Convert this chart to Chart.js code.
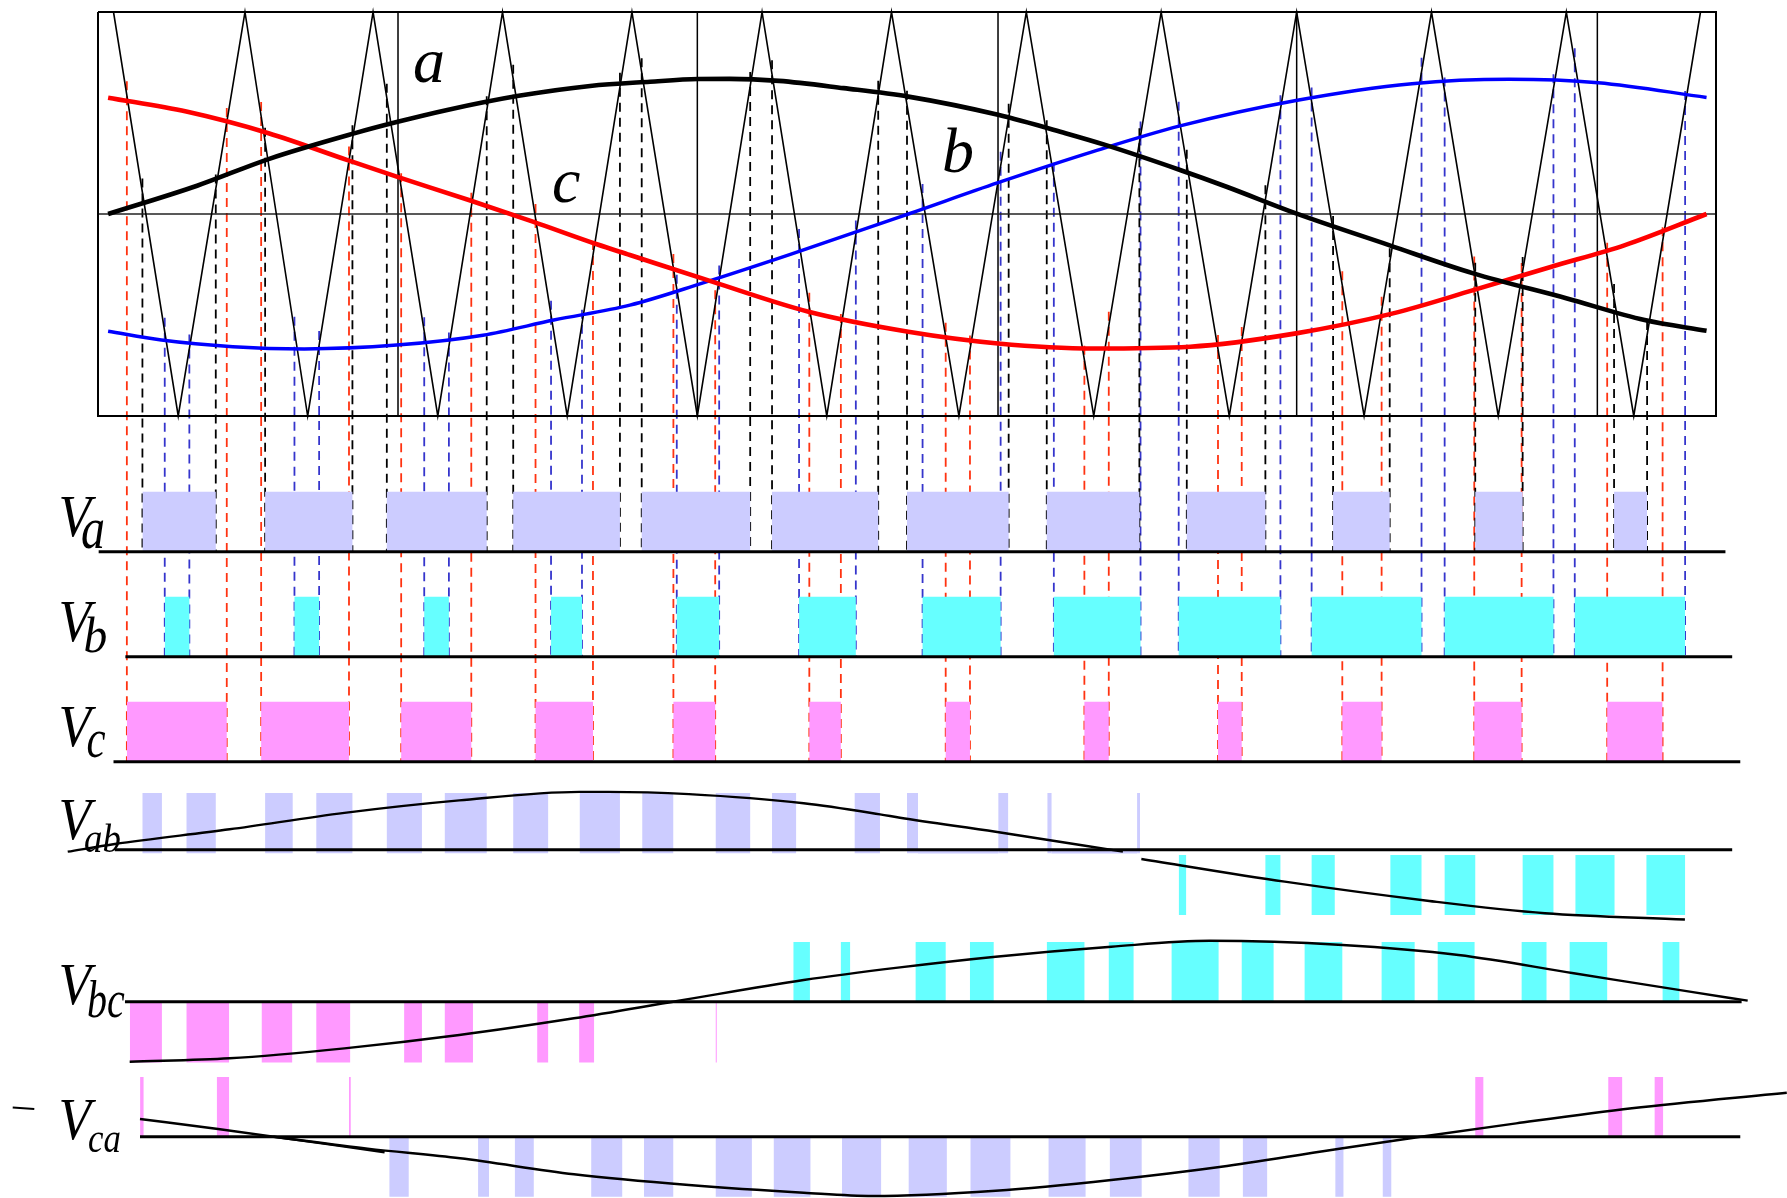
<!DOCTYPE html>
<html>
<head>
<meta charset="utf-8">
<title>Sinusoidal PWM – phase and line voltages</title>
<style>
  html, body { margin: 0; padding: 0; background: #fff; }
  canvas { display: block; }
</style>
<script src="https://cdn.jsdelivr.net/npm/chart.js@4.4.1/dist/chart.umd.min.js"></script>
</head>
<body>
<canvas id="pwm" width="1787" height="1198"></canvas>
<script>
// ---------------------------------------------------------------
// Data — angles in electrical degrees, levels normalised
// ---------------------------------------------------------------

// triangular carrier vertices (+1 peaks, -1 troughs)
const carrierPeaks   = [2.3, 21.8, 40.8, 60.0, 79.2, 98.5, 117.7, 137.7, 157.7, 177.8, 197.8, 217.8, 237.7];
const carrierTroughs = [11.9, 31.1, 50.4, 69.6, 88.9, 108.1, 127.7, 147.7, 167.8, 187.8, 207.7, 227.8];
const gridAngles     = [44.5, 88.9, 133.5, 177.8, 222.4];

// sinusoidal references (carrier peak = 1)
const refA_angle = [1.5, 14.7, 25.3, 38.0, 44.3, 51.8, 62.4, 73.0, 81.9, 89.0, 93.7, 101.0, 110.6, 120.2, 133.5, 143.5, 149.4, 160.5, 167.4, 177.7, 191.5, 204.0, 217.9, 229.4, 238.6];
const refA_value = [0.000, 0.140, 0.272, 0.399, 0.455, 0.515, 0.585, 0.634, 0.655, 0.668, 0.669, 0.659, 0.623, 0.581, 0.491, 0.400, 0.342, 0.218, 0.135, 0.003, -0.154, -0.294, -0.418, -0.525, -0.578];
const refB_angle = [1.5, 9.4, 20.0, 30.6, 44.3, 57.1, 67.6, 78.9, 89.4, 102.7, 120.2, 133.5, 147.7, 160.5, 177.7, 194.9, 209.3, 222.5, 238.6];
const refB_value = [-0.580, -0.624, -0.657, -0.668, -0.649, -0.600, -0.525, -0.451, -0.345, -0.200, 0.000, 0.155, 0.310, 0.436, 0.562, 0.645, 0.667, 0.650, 0.577];
const refC_angle = [1.5, 13.1, 25.3, 36.9, 44.3, 55.0, 64.5, 74.0, 78.9, 91.1, 105.4, 120.2, 133.5, 147.7, 162.0, 177.7, 192.1, 204.0, 215.6, 226.5, 238.6];
const refC_value = [0.576, 0.507, 0.400, 0.268, 0.185, 0.069, -0.038, -0.150, -0.203, -0.335, -0.484, -0.583, -0.641, -0.666, -0.657, -0.591, -0.492, -0.377, -0.261, -0.154, 0.000];

// phase pulses [on, off]
const pulsesA = [[6.59,17.47],[24.79,37.74],[42.84,57.66],[61.59,77.42],[80.65,96.74],[99.98,115.73],[120.00,135.08],[140.73,154.47],[161.50,173.16],[183.20,191.60],[204.29,211.32],[224.88,229.78]];
const pulsesB = [[9.90,13.55],[29.14,32.80],[48.39,52.05],[67.20,71.79],[85.85,92.14],[103.99,112.41],[122.31,133.89],[141.78,154.64],[160.30,175.39],[180.02,196.32],[199.75,215.89],[219.05,235.42]];
const pulsesC = [[4.28,19.10],[24.20,37.23],[44.97,55.37],[64.90,73.42],[85.35,91.55],[105.51,110.19],[125.74,129.34],[146.31,149.93],[166.13,169.65],[184.57,190.40],[204.14,211.17],[223.86,232.08]];

// line-to-line pulses
const vabPos  = [[6.57,9.48],[13.13,17.47],[24.79,28.88],[32.38,37.74],[42.84,48.05],[51.44,57.66],[61.59,66.77],[71.46,77.42],[80.73,85.33],[91.63,96.74],[99.98,103.55],[112.24,115.99],[120.00,121.63],[133.55,135.00],[140.83,141.44],[154.13,154.56]];
const vabOpen = [[121.63,133.55],[141.44,154.13]];
const vabNeg  = [[160.30,161.40],[173.16,175.39],[180.02,183.45],[191.70,196.32],[199.75,204.29],[211.32,215.89],[219.15,224.95],[229.68,235.44]];
const vbcPos  = [[103.13,105.60],[110.19,111.56],[121.28,125.74],[129.34,132.86],[140.75,146.32],[149.93,153.61],[159.25,166.22],[169.65,174.38],[178.98,184.57],[190.40,195.30],[198.72,204.19],[211.17,214.86],[218.29,223.86],[232.08,234.60]];
const vbcNeg  = [[4.72,9.48],[13.13,19.44],[24.29,28.80],[32.38,37.40],[45.41,48.05],[51.44,55.62],[65.15,66.77],[71.37,73.58],[91.63,91.80]];
const vcaPos  = [[6.24,6.76],[17.64,19.44],[37.23,37.49],[204.29,205.49],[224.02,226.08],[230.90,232.18]];
const vcaNeg  = [[43.20,46.09],[56.38,58.00],[61.84,64.64],[73.16,77.76],[80.99,85.33],[91.63,96.99],[100.24,105.68],[110.36,116.16],[120.25,125.91],[129.42,135.34],[141.00,146.49],[150.09,154.81],[161.75,166.38],[169.82,173.42],[183.54,184.74],[190.57,191.87]];

// fundamental of each line voltage (pulse height = 1)
const vab1_angle = [-4.49, 2.49, 19.52, 36.55, 53.58, 71.46, 75.72, 87.65, 104.67, 116.0, 118.96, 133.15, 152.02];
const vab1_value = [-0.035, 0.10, 0.36, 0.65, 0.87, 1.02, 1.02, 0.98, 0.82, 0.624, 0.564, 0.317, -0.035];
const vab2_angle = [154.76, 176.03, 197.48, 214.63, 235.39];
const vab2_value = [-0.164, -0.564, -0.904, -1.12, -1.23];
const vbc_angle  = [4.70, 19.52, 36.55, 53.58, 70.6, 85.94, 104.67, 118.96, 133.15, 150.3, 164.9, 184.6, 201.8, 218.9, 236.1, 244.7];
const vbc_value  = [-1.005, -0.948, -0.781, -0.558, -0.278, 0.012, 0.363, 0.575, 0.754, 0.921, 1.02, 0.95, 0.782, 0.476, 0.168, 0.017];
const vca1_angle = [6.23, 17.81, 42.51];
const vca1_value = [0.296, 0.130, -0.261];
const vca2_angle = [26.0, 40.0, 53.7, 70.6, 87.65, 104.67, 114.9, 133.15, 150.3, 167.46, 184.62, 196.2, 210.36, 227.52, 250.5];
const vca2_value = [0.0, -0.20, -0.362, -0.63, -0.809, -0.938, -0.993, -0.905, -0.725, -0.49, -0.194, 0.0, 0.224, 0.476, 0.737];

const curveNames = ['a', 'b', 'c'];
const rowNames   = ['a', 'b', 'c', 'ab', 'bc', 'ca'];

// ---------------------------------------------------------------
// Layout (pixels)
// ---------------------------------------------------------------
const W = 1787, H = 1198;
const FRAME = { left: 98, right: 1716, top: 12, bottom: 416, span: 240 };
const FRAME_MID = (FRAME.top + FRAME.bottom) / 2;
const FRAME_HALF = (FRAME.bottom - FRAME.top) / 2;
const degPx = (FRAME.right - FRAME.left) / FRAME.span;

const ROWS = {
  a:  { base: 551.7,  top: 491.7,  from: 0.1,  to: 241.4 },
  b:  { base: 656.7,  top: 596.7,  from: 4.06, to: 242.4 },
  c:  { base: 761.7,  top: 701.7,  from: 2.3,  to: 243.6 },
  ab: { base: 849.7,  top: 793.0,  from: 2.5,  to: 242.4 },
  bc: { base: 1001.7, top: 942.0,  from: 4.0,  to: 243.8 },
  ca: { base: 1136.7, top: 1077.0, from: 6.23, to: 243.6 }
};

// axis whose value 0 sits at pixel p0 and value 1 at pixel p1
function yAxis(p0, p1) {
  const R = H / (p0 - p1), max = p0 / (p0 - p1);
  return { type: 'linear', display: false, bounds: 'data', min: max - R, max: max };
}
const panelVal = px => (FRAME_MID - px) / FRAME_HALF;

const COLORS = {
  lav: '#ccccff', cyan: '#66ffff', mag: '#ff99ff',
  a: '#000000', b: '#0000ff', c: '#ff0000',
  dashA: '#000000', dashB: '#3535cc', dashC: '#ff3311'
};

// ---------------------------------------------------------------
// Helpers that turn the arrays into line datasets
// ---------------------------------------------------------------
const zip = (xs, ys) => xs.map((x, i) => ({ x, y: ys[i] }));
const carrierPts = [...carrierPeaks.map(x => ({ x, y: 1 })), ...carrierTroughs.map(x => ({ x, y: -1 }))]
  .sort((p, q) => p.x - q.x);
function carrierAt(x) {
  for (let i = 1; i < carrierPts.length; i++) {
    const p = carrierPts[i - 1], q = carrierPts[i];
    if (x <= q.x) { const t = Math.max(0, (x - p.x) / (q.x - p.x)); return p.y + t * (q.y - p.y); }
  }
  return carrierPts[carrierPts.length - 1].y;
}
function stepPoints(spans, rest, level) {
  const pts = [];
  for (const [s, e] of spans) pts.push({ x: s, y: rest }, { x: s, y: level }, { x: e, y: level }, { x: e, y: rest });
  return pts;
}
function dropLines(spans, rowBasePx) {
  const pts = [], bottom = panelVal(rowBasePx);
  for (const pair of spans) for (const e of pair) {
    pts.push({ x: e, y: carrierAt(e) + 0.07 }, { x: e, y: bottom }, { x: e, y: null });
  }
  return pts;
}
function segments(spans, level) {
  const pts = [];
  for (const [s, e] of spans) pts.push({ x: s, y: level }, { x: e, y: level }, { x: e, y: null });
  return pts;
}

const base = { type: 'line', pointRadius: 0, pointHoverRadius: 0, fill: false, tension: 0, spanGaps: false };
const stroke = (data, axis, color, width, order, extra = {}) =>
  Object.assign({}, base, { data, yAxisID: axis, borderColor: color, borderWidth: width, order }, extra);
const pulses = (spans, axis, color, rest, level) =>
  Object.assign({}, base, {
    data: stepPoints(spans, rest, level), yAxisID: axis, borderColor: 'rgba(0,0,0,0)', borderWidth: 0,
    backgroundColor: color, fill: { value: rest }, order: 40
  });
const smooth = { cubicInterpolationMode: 'monotone' };
const dash = { borderDash: [9, 6] };

const datasets = [
  // switching instants dropped from the carrier crossings
  stroke(dropLines(pulsesC, ROWS.c.base), 'yP', COLORS.dashC, 1.8, 52, dash),
  stroke(dropLines(pulsesB, ROWS.b.base), 'yP', COLORS.dashB, 1.8, 51, dash),
  stroke(dropLines(pulsesA, ROWS.a.base), 'yP', COLORS.dashA, 1.8, 50, dash),

  // phase voltages
  pulses(pulsesA, 'ya', COLORS.lav, 0, 1),
  pulses(pulsesB, 'yb', COLORS.cyan, 0, 1),
  pulses(pulsesC, 'yc', COLORS.mag, 0, 1),

  // line voltages
  pulses(vabPos, 'yab', COLORS.lav, -0.063, 1),
  pulses(vabNeg, 'yab', COLORS.cyan, -0.093, -1.15),
  stroke(segments(vabOpen, -0.044), 'yab', COLORS.lav, 2.4, 39),
  pulses(vbcPos, 'ybc', COLORS.cyan, 0, 1),
  pulses(vbcNeg, 'ybc', COLORS.mag, -0.017, -1.02),
  pulses(vcaPos, 'yca', COLORS.mag, 0, 1),
  pulses(vcaNeg, 'yca', COLORS.lav, -0.017, -1.005),

  // modulation frame
  stroke([{ x: 0, y: 1 }, { x: FRAME.span, y: 1 }, { x: FRAME.span, y: -1 }, { x: 0, y: -1 }, { x: 0, y: 1 }], 'yP', '#000', 2, 30),
  stroke([{ x: 0, y: 0 }, { x: FRAME.span, y: 0 }], 'yP', '#222', 1.5, 30),
  stroke(gridAngles.flatMap(g => [{ x: g, y: 1 }, { x: g, y: -1 }, { x: g, y: null }]), 'yP', '#000', 1.5, 30),
  stroke(carrierPts, 'yP', '#000', 1.6, 25),

  // row axes
  ...rowNames.map(k => stroke([{ x: ROWS[k].from, y: 0 }, { x: ROWS[k].to, y: 0 }], 'y' + k, '#000', 3, 20)),

  // references
  stroke(zip(refB_angle, refB_value), 'yP', COLORS.b, 3.5, 12, smooth),
  stroke(zip(refC_angle, refC_value), 'yP', COLORS.c, 4.6, 11, smooth),
  stroke(zip(refA_angle, refA_value), 'yP', COLORS.a, 4.6, 10, smooth),

  // line-voltage fundamentals
  stroke(zip(vab1_angle, vab1_value), 'yab', '#000', 2.4, 5, smooth),
  stroke(zip(vab2_angle, vab2_value), 'yab', '#000', 2.4, 5, smooth),
  stroke(zip(vbc_angle, vbc_value), 'ybc', '#000', 2.4, 5, smooth),
  stroke(zip(vca1_angle, vca1_value), 'yca', '#000', 2.4, 5, smooth),
  stroke(zip(vca2_angle, vca2_value), 'yca', '#000', 2.4, 5, smooth)
];

// ---------------------------------------------------------------
// Text labels
// ---------------------------------------------------------------
const CURVE_LABEL_POS = { a: [46.71, 0.652], b: [125.21, 0.206], c: [67.34, 0.058] };
const ROW_LABEL_POS = {
  a:  { vy: 536,  sx: 81.0, sy: 548,  size: 60, scale: 0.80 },
  b:  { vy: 641,  sx: 83.5, sy: 652,  size: 50, scale: 0.95 },
  c:  { vy: 746,  sx: 86.5, sy: 757,  size: 55, scale: 0.78 },
  ab: { vy: 839,  sx: 84.0, sy: 852,  size: 40, scale: 0.92 },
  bc: { vy: 1004, sx: 87.0, sy: 1017, size: 52, scale: 0.77 },
  ca: { vy: 1139, sx: 88.0, sy: 1152, size: 43, scale: 0.81 }
};
const SERIF = '"Liberation Serif", "DejaVu Serif", serif';

function drawScaled(ctx, text, x, y, size, sx) {
  ctx.save();
  ctx.translate(x, y);
  ctx.scale(sx, 1);
  ctx.font = `italic ${size}px ${SERIF}`;
  ctx.fillText(text, 0, 0);
  ctx.restore();
}

const labelPlugin = {
  id: 'pwmLabels',
  afterDraw(chart) {
    const ctx = chart.ctx, xs = chart.scales.x, ys = chart.scales.yP;
    ctx.save();
    ctx.fillStyle = '#000';
    ctx.textBaseline = 'alphabetic';
    ctx.textAlign = 'left';
    for (const n of curveNames) {
      const [ax, av] = CURVE_LABEL_POS[n];
      drawScaled(ctx, n, xs.getPixelForValue(ax), ys.getPixelForValue(av), 64, 1);
    }
    for (const n of rowNames) {
      const p = ROW_LABEL_POS[n];
      drawScaled(ctx, 'V', 58.5, p.vy, 59, 0.9);
      drawScaled(ctx, n, p.sx, p.sy, p.size, p.scale);
    }
    // small stroke left of the last label
    ctx.strokeStyle = '#000';
    ctx.lineWidth = 2;
    ctx.beginPath();
    ctx.moveTo(12.7, 1107.4);
    ctx.lineTo(34.3, 1109.0);
    ctx.stroke();
    ctx.restore();
  }
};

// ---------------------------------------------------------------
// Chart
// ---------------------------------------------------------------
const scales = {
  x: { type: 'linear', display: false, bounds: 'data', min: -FRAME.left / degPx, max: (W - FRAME.left) / degPx },
  yP: yAxis(FRAME_MID, FRAME_MID - FRAME_HALF)
};
for (const k of rowNames) scales['y' + k] = yAxis(ROWS[k].base, ROWS[k].top);

new Chart(document.getElementById('pwm'), {
  type: 'line',
  data: { datasets },
  options: {
    responsive: false,
    devicePixelRatio: 1,
    animation: false,
    events: [],
    layout: { padding: 0 },
    scales,
    plugins: { legend: { display: false }, tooltip: { enabled: false }, title: { display: false } }
  },
  plugins: [labelPlugin]
});
</script>
</body>
</html>
